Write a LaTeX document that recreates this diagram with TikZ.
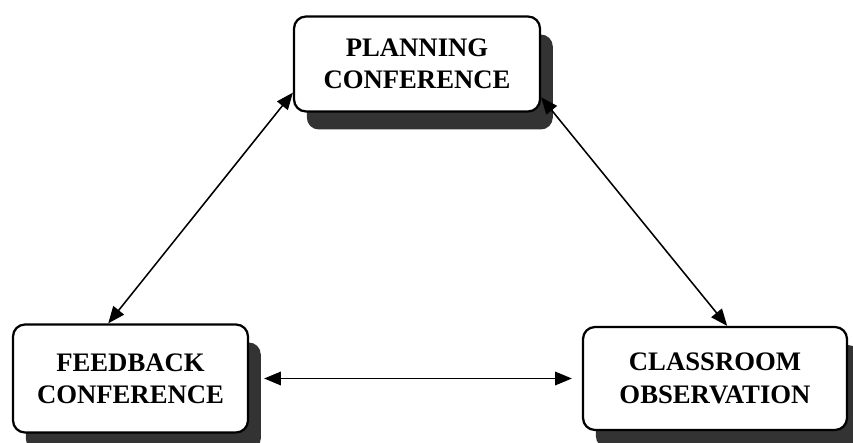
\documentclass[tikz,border=0pt]{standalone}
\usepackage{fontspec}
\setmainfont{Liberation Serif}
\usetikzlibrary{shapes,shadows,arrows.meta}

\begin{document}
\begin{tikzpicture}[
  stage/.style={draw, line width=1.6pt, rounded corners=0.3cm, fill=white, align=center,
    font=\fontsize{19}{23}\selectfont\bfseries,
    drop shadow={shadow xshift=0.32cm, shadow yshift=-0.45cm, fill=scangray, opacity=1}},
  link/.style={line width=1.1pt, {Triangle[length=0.42cm,width=0.34cm]}-{Triangle[length=0.42cm,width=0.34cm]}}
]
	\definecolor{scangray}{HTML}{333333}
	\useasboundingbox (0,0) rectangle (21.325,11.05);

	% boxes
	\node[stage, minimum width=6.15cm, minimum height=2.375cm] (plan) at (10.425,9.45) {PLANNING\\CONFERENCE};
	\node[stage, minimum width=5.875cm, minimum height=2.7cm] (feed) at (3.2625,1.5875) {FEEDBACK\\CONFERENCE};
	\node[stage, minimum width=6.6cm, minimum height=2.575cm] (obs) at (17.875,1.5875) {CLASSROOM\\OBSERVATION};

	% arrows
	\draw[link] (plan.193) -- (feed.112);
	\draw[link] (plan.-15) -- (obs.77);
	\draw[link, shorten <=0.375cm, shorten >=0.25cm] (feed.east) -- (obs.west);
\end{tikzpicture}
\end{document}
